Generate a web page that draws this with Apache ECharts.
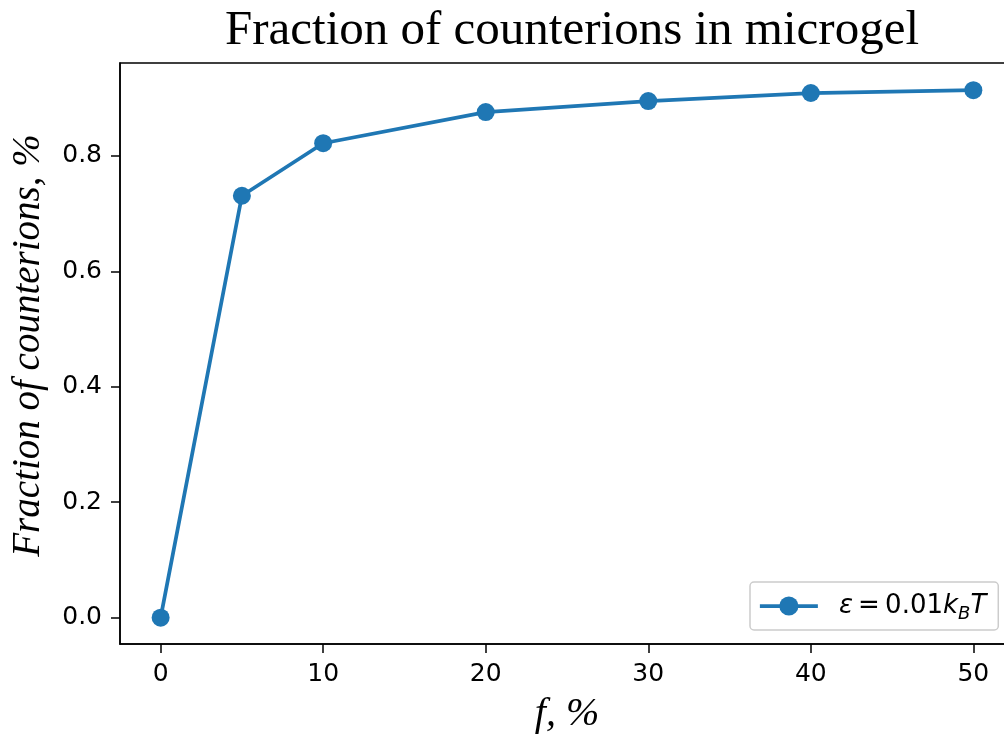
<!DOCTYPE html>
<html>
<head>
<meta charset="utf-8">
<script src="https://cdn.jsdelivr.net/npm/echarts@6/dist/echarts.min.js"></script>
<style>
html,body{margin:0;padding:0;background:#fff;}
#chart{width:1004px;height:735px;}
</style>
</head>
<body>
<div id="chart"></div>
<script>
const xValues = [0, 5, 10, 20, 30, 40, 50];
const yValues = [0.0, 0.731, 0.822, 0.876, 0.895, 0.909, 0.914];
const xTicks = [0, 10, 20, 30, 40, 50];
const yTicks = [0.0, 0.2, 0.4, 0.6, 0.8];
const seriesName = 'eps';

const chart = echarts.init(document.getElementById('chart'), null, {renderer: 'canvas'});
const blue = '#1f77b4';
const tickFont = {fontFamily: 'DejaVu Sans', fontSize: 25, color: '#000'};

chart.setOption({
  animation: false,
  backgroundColor: '#fff',
  title: {
    text: 'Fraction of counterions in microgel',
    left: 567, top: 2, textAlign: 'center',
    textStyle: {fontFamily: 'Liberation Serif', fontSize: 49, fontWeight: 'normal', color: '#000'}
  },
  grid: {left: 120, top: 63, width: 894, height: 581, containLabel: false, outerBoundsMode: 'none',
         show: true, borderColor: '#000', borderWidth: 1.5, backgroundColor: 'transparent'},
  xAxis: {
    type: 'value', min: -2.5, max: 52.5,
    name: 'f, %', nameLocation: 'middle', nameGap: 50,
    nameTextStyle: {fontFamily: 'Liberation Serif', fontStyle: 'italic', fontSize: 40, color: '#000'},
    axisLine: {show: true, onZero: false, lineStyle: {color: '#000', width: 1.5}},
    axisTick: {show: true, inside: false, length: 9, lineStyle: {color: '#000', width: 1.5}, customValues: xTicks},
    axisLabel: Object.assign({margin: 18, customValues: xTicks, formatter: v => String(v)}, tickFont),
    splitLine: {show: false}
  },
  yAxis: {
    type: 'value', min: -0.0457, max: 0.961,
    name: 'Fraction of counterions, %', nameLocation: 'middle', nameGap: 72, nameRotate: 90,
    nameTextStyle: {fontFamily: 'Liberation Serif', fontStyle: 'italic', fontSize: 39, color: '#000', padding: [0, 0, 0, 16]},
    axisLine: {show: true, onZero: false, lineStyle: {color: '#000', width: 1.5}},
    axisTick: {show: true, inside: false, length: 9, lineStyle: {color: '#000', width: 1.5}, customValues: yTicks},
    axisLabel: Object.assign({margin: 18, customValues: yTicks, formatter: v => v.toFixed(1)}, tickFont),
    splitLine: {show: false}
  },
  legend: {
    data: [seriesName],
    left: 750, top: 582,
    orient: 'vertical',
    backgroundColor: '#fff',
    borderColor: '#cccccc', borderWidth: 1.5, borderRadius: 4,
    padding: [7, 12, 7, 8],
    itemWidth: 58, itemHeight: 24, itemGap: 14,
    lineStyle: {width: 3.75, color: blue},
    itemStyle: {color: blue},
    formatter: () => '{e|ε}\u2009=\u20090.01{i|k}{s|B}{i|T}',
    textStyle: {
      fontFamily: 'DejaVu Sans', fontSize: 26, color: '#000', lineHeight: 34,
      rich: {
        e: {fontFamily: 'DejaVu Sans', fontStyle: 'italic', fontSize: 26, lineHeight: 34, padding: [0, 0, 0, 16]},
        i: {fontFamily: 'DejaVu Sans', fontStyle: 'italic', fontSize: 26, lineHeight: 34},
        s: {fontFamily: 'DejaVu Sans', fontStyle: 'italic', fontSize: 18, lineHeight: 18, verticalAlign: 'bottom'}
      }
    }
  },
  series: [{
    name: seriesName,
    type: 'line',
    data: xValues.map((x, i) => [x, yValues[i]]),
    symbol: 'circle', symbolSize: 18,
    itemStyle: {color: blue},
    lineStyle: {color: blue, width: 3.75},
    clip: false
  }]
});
</script>
</body>
</html>
